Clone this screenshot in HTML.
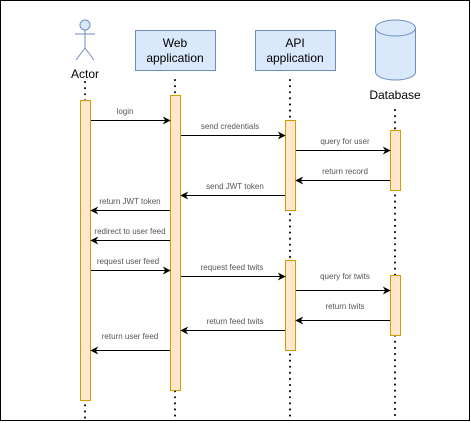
<!DOCTYPE html>
<html><head><meta charset="utf-8"><style>
html,body{margin:0;padding:0;background:#fff;}
svg{display:block;font-family:"Liberation Sans",Arial,sans-serif;}
.lbl{font-size:8px;fill:#555;text-anchor:middle;}
.big{font-size:12px;fill:#000;text-anchor:middle;}
.life{stroke:#000;stroke-width:2;stroke-dasharray:0.1 6;stroke-linecap:round;fill:none;}
.bar{fill:#ffe6cc;stroke:#d79b00;stroke-width:1;}
.msg{stroke:#000;stroke-width:1;fill:none;}
</style></head><body>
<svg width="471" height="423" viewBox="0 0 471 423" xmlns="http://www.w3.org/2000/svg">
<defs><marker id="a" viewBox="0 0 10 10" refX="9" refY="5" markerWidth="8" markerHeight="8" orient="auto" markerUnits="userSpaceOnUse"><path d="M0,0 L10,5 L0,10 L3,5 z" fill="#000"/></marker></defs>
<rect x="0.5" y="0.5" width="469" height="420" fill="#fff" stroke="#000" stroke-width="1"/>
<!-- lifelines -->
<line class="life" x1="85" y1="82" x2="85" y2="420"/>
<line class="life" x1="175" y1="80" x2="175" y2="420"/>
<line class="life" x1="290" y1="80" x2="290" y2="420"/>
<line class="life" x1="395" y1="110" x2="395" y2="420"/>
<!-- actor -->
<g stroke="#6c8ebf" stroke-width="1" fill="#dae8fc">
<circle cx="85" cy="25" r="5"/>
<line x1="85" y1="30" x2="85" y2="48"/>
<line x1="75" y1="34" x2="95" y2="34"/>
<line x1="85" y1="48" x2="76" y2="60"/>
<line x1="85" y1="48" x2="94" y2="60"/>
</g>
<text class="big" x="85" y="78">Actor</text>
<rect x="135.5" y="30.5" width="80" height="40" fill="#dae8fc" stroke="#6c8ebf"/>
<text class="big" x="175" y="47">Web</text><text class="big" x="175" y="62">application</text>
<rect x="255.5" y="30.5" width="80" height="40" fill="#dae8fc" stroke="#6c8ebf"/>
<text class="big" x="295" y="47">API</text><text class="big" x="295" y="62">application</text>
<path d="M375.5,28 A20,8 0 0 1 415.5,28 V72 A20,8 0 0 1 375.5,72 Z" fill="#dae8fc" stroke="#6c8ebf"/>
<path d="M375.5,28 A20,8 0 0 0 415.5,28" fill="none" stroke="#6c8ebf"/>
<text class="big" x="395" y="99">Database</text>
<!-- bars -->
<rect class="bar" x="80.5" y="100.5" width="10" height="300"/>
<rect class="bar" x="170.5" y="95.5" width="10" height="295"/>
<rect class="bar" x="285.5" y="120.5" width="10" height="90"/>
<rect class="bar" x="285.5" y="260.5" width="10" height="90"/>
<rect class="bar" x="390.5" y="130.5" width="10" height="60"/>
<rect class="bar" x="390.5" y="275.5" width="10" height="60"/>
<!-- messages -->
<line class="msg" x1="91" y1="120.5" x2="170" y2="120.5" marker-end="url(#a)"/><text class="lbl" x="125" y="114">login</text>
<line class="msg" x1="181" y1="135.5" x2="285" y2="135.5" marker-end="url(#a)"/><text class="lbl" x="230" y="129">send credentials</text>
<line class="msg" x1="296" y1="150.5" x2="390" y2="150.5" marker-end="url(#a)"/><text class="lbl" x="345" y="144">query for user</text>
<line class="msg" x1="390" y1="180.5" x2="296" y2="180.5" marker-end="url(#a)"/><text class="lbl" x="345" y="174">return record</text>
<line class="msg" x1="285" y1="195.5" x2="181" y2="195.5" marker-end="url(#a)"/><text class="lbl" x="235" y="189">send JWT token</text>
<line class="msg" x1="170" y1="210.5" x2="91" y2="210.5" marker-end="url(#a)"/><text class="lbl" x="130" y="204">return JWT token</text>
<line class="msg" x1="170" y1="240.5" x2="91" y2="240.5" marker-end="url(#a)"/><text class="lbl" x="130" y="234">redirect to user feed</text>
<line class="msg" x1="91" y1="270.5" x2="170" y2="270.5" marker-end="url(#a)"/><text class="lbl" x="128" y="264">request user feed</text>
<line class="msg" x1="181" y1="276.5" x2="285" y2="276.5" marker-end="url(#a)"/><text class="lbl" x="232" y="270">request feed twits</text>
<line class="msg" x1="296" y1="290.5" x2="390" y2="290.5" marker-end="url(#a)"/><text class="lbl" x="345" y="279">query for twits</text>
<line class="msg" x1="390" y1="320.5" x2="296" y2="320.5" marker-end="url(#a)"/><text class="lbl" x="345" y="309">return twits</text>
<line class="msg" x1="285" y1="330.5" x2="181" y2="330.5" marker-end="url(#a)"/><text class="lbl" x="235" y="324">return feed twits</text>
<line class="msg" x1="170" y1="350.5" x2="91" y2="350.5" marker-end="url(#a)"/><text class="lbl" x="130" y="339">return user feed</text>
</svg>
</body></html>
